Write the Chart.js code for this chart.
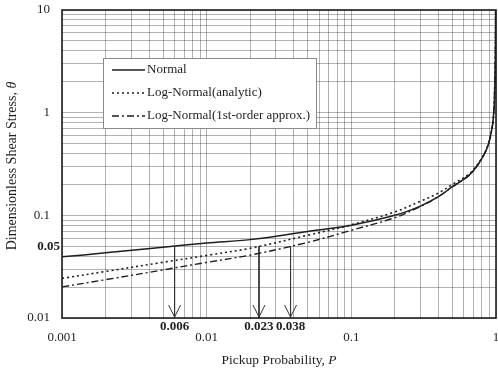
<!DOCTYPE html>
<html>
<head>
<meta charset="utf-8">
<script src="https://cdn.jsdelivr.net/npm/chart.js@4.4.1/dist/chart.umd.min.js"></script>
<style>
  html, body { margin: 0; padding: 0; background: #fff; }
  #wrap { width: 498px; height: 371px; }
</style>
</head>
<body>
<div id="wrap"><canvas id="chart"></canvas></div>
<script>
// pickup probability P, shared by the three curves
const pickupP = [0.001, 0.002, 0.005, 0.01, 0.02, 0.05, 0.1, 0.2, 0.3, 0.4, 0.5, 0.65, 0.76, 0.87, 0.94, 0.97, 0.98, 0.99, 0.995];
const normalTheta = [0.0394, 0.0431, 0.0489, 0.0537, 0.058, 0.0697, 0.08, 0.1, 0.123, 0.152, 0.19, 0.245, 0.32, 0.457, 0.714, 1.12, 1.8, 3.5, 12];
const analyticTheta = [0.0243, 0.0284, 0.0349, 0.0407, 0.0478, 0.064, 0.081, 0.108, 0.137, 0.165, 0.2, 0.252, 0.325, 0.46, 0.714, 1.12, 1.8, 3.5, 12];
const approxTheta = [0.0201, 0.0236, 0.0294, 0.0348, 0.041, 0.0545, 0.0715, 0.095, 0.122, 0.152, 0.19, 0.245, 0.32, 0.457, 0.714, 1.12, 1.8, 3.5, 12];

const seriesNames = ["Normal", "Log-Normal(analytic)", "Log-Normal(1st-order approx.)"];

// arrows dropped where each curve crosses theta = 0.05
const arrowP = [0.006, 0.023, 0.038];
const arrowLabels = ["0.006", "0.023", "0.038"];
const thetaRef = 0.05;
const thetaFloor = 0.01;

// labelled ticks
const xLabels = [0.001, 0.01, 0.1, 1];
const yLabels = [0.01, 0.1, 1, 10];

const FONT = "'Liberation Serif', 'Times New Roman', serif";
const INK = "#1e1e1e";

function logTicks(lo, hi) {
  const out = [];
  for (let e = lo; e < hi; e++) {
    for (let m = 1; m < 10; m++) out.push(+(m * Math.pow(10, e)).toPrecision(3));
  }
  out.push(Math.pow(10, hi));
  return out;
}

function pts(ys) {
  return pickupP.map((p, i) => ({ x: p, y: ys[i] }));
}

const lineStyles = [
  { dash: [], width: 1.5 },
  { dash: [2, 3], width: 1.6 },
  { dash: [7, 3, 2, 3], width: 1.4 }
];

const datasets = [normalTheta, analyticTheta, approxTheta].map((ys, i) => ({
  label: seriesNames[i],
  data: pts(ys),
  borderColor: INK,
  borderWidth: lineStyles[i].width,
  borderDash: lineStyles[i].dash,
  pointRadius: 0,
  tension: 0.35,
  fill: false
}));

arrowP.forEach((p) => {
  datasets.push({
    label: "arrow",
    data: [{ x: p, y: thetaRef }, { x: p, y: thetaFloor }],
    borderColor: "#333",
    borderWidth: 1,
    pointRadius: 0,
    fill: false
  });
});

const paper = {
  id: "paper",
  afterDraw(chart) {
    const { ctx, chartArea: a, scales } = chart;
    const xs = scales.x, ys = scales.y;
    ctx.save();

    // plot frame
    ctx.strokeStyle = INK;
    ctx.lineWidth = 1.6;
    ctx.strokeRect(a.left, a.top, a.right - a.left, a.bottom - a.top);

    // decade labels on both axes
    ctx.fillStyle = INK;
    ctx.textBaseline = "middle";
    ctx.font = "13px " + FONT;
    ctx.textAlign = "center";
    xLabels.forEach(v => ctx.fillText(String(v), xs.getPixelForValue(v), a.bottom + 20));
    ctx.textAlign = "right";
    yLabels.forEach(v => ctx.fillText(String(v), a.left - 12, ys.getPixelForValue(v)));

    // arrow heads + labels
    ctx.textAlign = "center";
    ctx.strokeStyle = "#333";
    ctx.lineWidth = 1;
    ctx.font = "bold 13px " + FONT;
    arrowP.forEach((p, i) => {
      const px = xs.getPixelForValue(p);
      const py = ys.getPixelForValue(thetaFloor);
      ctx.beginPath();
      ctx.moveTo(px - 6, py - 13);
      ctx.lineTo(px, py - 1);
      ctx.lineTo(px + 6, py - 13);
      ctx.stroke();
      ctx.fillText(arrowLabels[i], px, a.bottom + 9);
    });

    // 0.05 marker on the y axis
    ctx.textAlign = "right";
    ctx.fillText(String(thetaRef), a.left - 2, ys.getPixelForValue(thetaRef));

    // axis titles with italic symbols
    ctx.textAlign = "left";
    const drawParts = (parts, cx, cy, size) => {
      let total = 0;
      parts.forEach(pt => { ctx.font = pt[1] + " " + size + "px " + FONT; total += ctx.measureText(pt[0]).width; });
      let x0 = cx - total / 2;
      parts.forEach(pt => {
        ctx.font = pt[1] + " " + size + "px " + FONT;
        ctx.fillText(pt[0], x0, cy);
        x0 += ctx.measureText(pt[0]).width;
      });
    };
    drawParts([["Pickup Probability, ", "normal"], ["P", "italic"]], (a.left + a.right) / 2, 360, 13.5);
    ctx.save();
    ctx.translate(12, (a.top + a.bottom) / 2 + 2);
    ctx.rotate(-Math.PI / 2);
    drawParts([["Dimensionless Shear Stress, ", "normal"], ["\u03b8", "italic"]], 0, 0, 14);
    ctx.restore();

    // legend box
    const lx = a.left + 41, ly = a.top + 48, lw = 213, lh = 70;
    ctx.fillStyle = "#fff";
    ctx.fillRect(lx, ly, lw, lh);
    ctx.strokeStyle = "#8a8a8a";
    ctx.lineWidth = 1;
    ctx.strokeRect(lx + 0.5, ly + 0.5, lw, lh);
    ctx.font = "13px " + FONT;
    ctx.fillStyle = INK;
    seriesNames.forEach((name, i) => {
      const yy = ly + 12 + i * 23;
      ctx.strokeStyle = INK;
      ctx.lineWidth = lineStyles[i].width;
      ctx.setLineDash(lineStyles[i].dash);
      ctx.beginPath();
      ctx.moveTo(lx + 9, yy);
      ctx.lineTo(lx + 42, yy);
      ctx.stroke();
      ctx.setLineDash([]);
      ctx.fillText(name, lx + 44, yy);
    });
    ctx.restore();
  }
};

new Chart(document.getElementById("chart"), {
  type: "line",
  data: { datasets },
  options: {
    responsive: true,
    maintainAspectRatio: false,
    animation: false,
    layout: { padding: { top: 10, right: 2, left: 0, bottom: 0 } },
    plugins: { legend: { display: false }, tooltip: { enabled: false } },
    scales: {
      x: {
        type: "logarithmic",
        min: 0.001,
        max: 1,
        afterBuildTicks: s => { s.ticks = logTicks(-3, 0).map(v => ({ value: v })); },
        afterFit: s => { s.height = 53; },
        grid: { color: "rgba(0,0,0,0.3)", lineWidth: 1, drawTicks: false },
        border: { display: false },
        ticks: { display: false }
      },
      y: {
        type: "logarithmic",
        min: 0.01,
        max: 10,
        afterBuildTicks: s => { s.ticks = logTicks(-2, 1).map(v => ({ value: v })); },
        afterFit: s => { s.width = 62; },
        grid: { color: "rgba(0,0,0,0.3)", lineWidth: 1, drawTicks: false },
        border: { display: false },
        ticks: { display: false }
      }
    }
  },
  plugins: [paper]
});
</script>
</body>
</html>
